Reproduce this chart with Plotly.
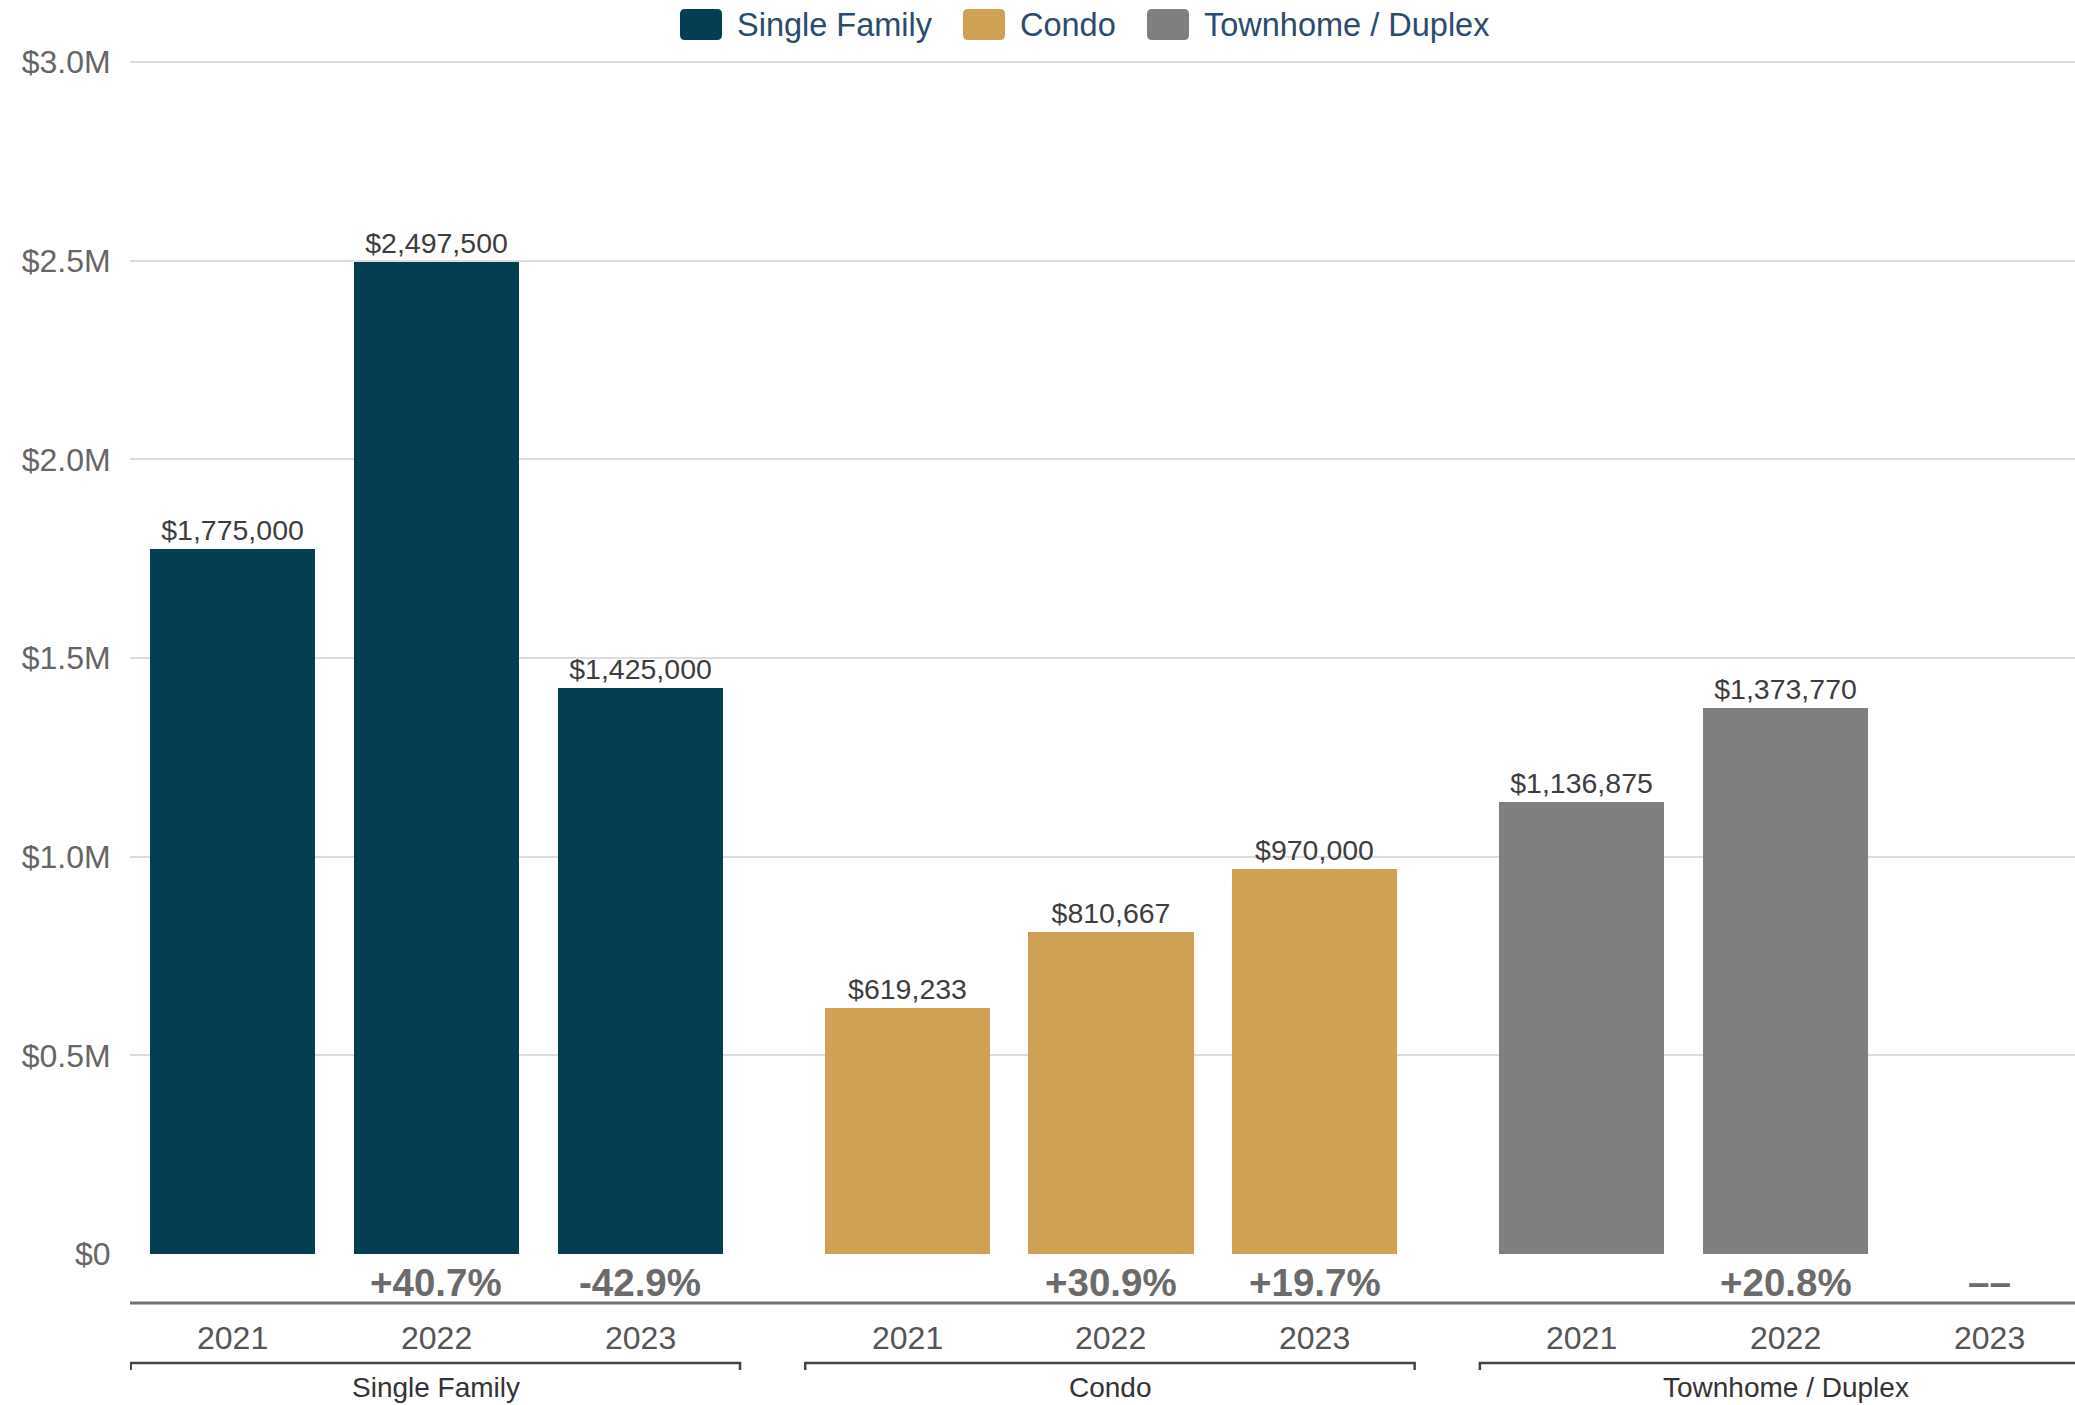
import plotly.graph_objects as go

# ---------------- data ----------------
groups = ["Single Family", "Condo", "Townhome / Duplex"]
years = ["2021", "2022", "2023"]
single_family = [1775000, 2497500, 1425000]
condo = [619233, 810667, 970000]
townhome = [1136875, 1373770, None]
colors = ["#053d52", "#cfa154", "#7f7f7f"]
y_ticks = [0, 500000, 1000000, 1500000, 2000000, 2500000, 3000000]
y_tick_labels = ["$0", "$0.5M", "$1.0M", "$1.5M", "$2.0M", "$2.5M", "$3.0M"]
y_max = 3020000

series = [single_family, condo, townhome]

# ---------------- layout geometry ----------------
W, H = 2075, 1405
ML, MR, MT, MB = 130, 0, 54, 151
PW, PH = W - ML - MR, H - MT - MB
GROUP_STRIDE = 3.31
BAR_W = 0.81
FONT = "Arial, Liberation Sans, sans-serif"


def px(x):
    return (x - ML) / PW


def py(y):
    return (H - MB - y) / PH


fig = go.Figure()

for g, (name, vals, col) in enumerate(zip(groups, series, colors)):
    xs = [g * GROUP_STRIDE + i for i in range(len(years))]
    fig.add_trace(go.Bar(
        x=xs, y=vals, name=name, width=BAR_W,
        marker=dict(color=col, line=dict(width=0)),
        texttemplate="$%{y:,.0f}", textposition="outside",
        textfont=dict(size=28.5, color="#3d3d3d", family=FONT),
        constraintext="none", cliponaxis=False,
        showlegend=False, hoverinfo="x+y",
    ))

annotations = []
shapes = []

for g, (name, vals) in enumerate(zip(groups, series)):
    base = g * GROUP_STRIDE
    # percent change row
    for i in range(1, len(vals)):
        if vals[i] is None or vals[i - 1] is None:
            txt = "\u2013\u2013"
        else:
            ch = (vals[i] / vals[i - 1] - 1) * 100
            txt = f"{ch:+.1f}%"
        annotations.append(dict(
            x=base + i, y=py(1282), xref="x", yref="paper", text=f"<b>{txt}</b>",
            showarrow=False, font=dict(size=38.5, color="#6b6b6b", family=FONT),
            xanchor="center", yanchor="middle"))
    # year labels
    for i, yr in enumerate(years):
        annotations.append(dict(
            x=base + i, y=py(1338), xref="x", yref="paper", text=yr,
            showarrow=False, font=dict(size=32, color="#555555", family=FONT),
            xanchor="center", yanchor="middle"))
    # group label
    annotations.append(dict(
        x=base + 1, y=py(1387), xref="x", yref="paper", text=name,
        showarrow=False, font=dict(size=28, color="#333333", family=FONT),
        xanchor="center", yanchor="middle"))
    # bracket
    x0, x1 = base - 0.5, base + 2.49
    shapes.append(dict(
        type="path", xref="x", yref="paper",
        path=f"M {x0},{py(1370)} L {x0},{py(1363)} L {x1},{py(1363)} L {x1},{py(1370)}",
        line=dict(color="#444444", width=2.5)))

# line under percent row
shapes.append(dict(type="line", xref="paper", yref="paper", x0=0, x1=1,
                   y0=py(1303), y1=py(1303), line=dict(color="#707070", width=3)))

# legend (custom, to match the rounded swatches)
legend_pos = [680, 963, 1147]
for name, col, lx in zip(groups, colors, legend_pos):
    x0, x1, y0, y1, r = lx, lx + 42, 9, 40, 5
    pts = (f"M {px(x0 + r)},{py(y0)} L {px(x1 - r)},{py(y0)} "
           f"Q {px(x1)},{py(y0)} {px(x1)},{py(y0 + r)} L {px(x1)},{py(y1 - r)} "
           f"Q {px(x1)},{py(y1)} {px(x1 - r)},{py(y1)} L {px(x0 + r)},{py(y1)} "
           f"Q {px(x0)},{py(y1)} {px(x0)},{py(y1 - r)} L {px(x0)},{py(y0 + r)} "
           f"Q {px(x0)},{py(y0)} {px(x0 + r)},{py(y0)} Z")
    shapes.append(dict(type="path", xref="paper", yref="paper", path=pts,
                       fillcolor=col, line=dict(width=0)))
    annotations.append(dict(
        x=px(x1 + 13), y=py(25), xref="paper", yref="paper", text=name,
        showarrow=False, font=dict(size=32.5, color="#2b4b6f", family=FONT),
        xanchor="left", yanchor="middle"))

fig.update_layout(
    width=W, height=H,
    margin=dict(l=ML, r=MR, t=MT, b=MB, pad=0),
    paper_bgcolor="white", plot_bgcolor="white",
    font=dict(family=FONT),
    showlegend=False,
    bargap=0,
    xaxis=dict(range=[-0.503, 9.04], showticklabels=False, showgrid=False,
               zeroline=False, ticks="", fixedrange=True),
    yaxis=dict(range=[0, y_max], tickvals=y_ticks, ticktext=y_tick_labels,
               showgrid=True, gridcolor="#dcdcdc", gridwidth=2, zeroline=False,
               ticks="outside", ticklen=12, tickcolor="rgba(0,0,0,0)",
               tickfont=dict(size=32, color="#666666", family=FONT),
               fixedrange=True),
    annotations=annotations,
    shapes=shapes,
)

fig.write_html(
    "out.html",
    config={"displayModeBar": False},
    post_script="document.body.style.margin='0';document.body.style.padding='0';"
                "document.body.style.overflow='hidden';",
)
